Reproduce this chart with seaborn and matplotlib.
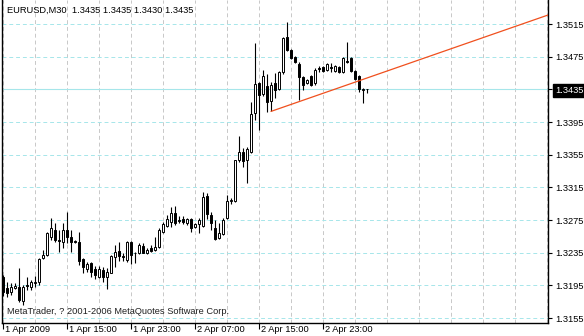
import numpy as np
import pandas as pd
import matplotlib
matplotlib.use("Agg")
import matplotlib.pyplot as plt
import matplotlib.transforms as mtransforms
import seaborn as sns

# ---------------- data ----------------
header_text = "EURUSD,M30  1.3435 1.3435 1.3430 1.3435"
footer_text = "MetaTrader, ? 2001-2006 MetaQuotes Software Corp."

open_ = [1.3205, 1.3192, 1.3187, 1.3192, 1.3193, 1.3176, 1.3195, 1.3193, 1.3198, 1.3199,
         1.3228, 1.3232, 1.3254, 1.3263, 1.3251, 1.3248, 1.3263, 1.3254, 1.3249, 1.3248,
         1.3227, 1.3215, 1.3222, 1.3215, 1.3205, 1.3214, 1.3205, 1.3210, 1.3230, 1.3237,
         1.3231, 1.3226, 1.3248, 1.3234, 1.3235, 1.3243, 1.3235, 1.3241, 1.3238, 1.3242,
         1.3260, 1.3268, 1.3273, 1.3284, 1.3275, 1.3276, 1.3271, 1.3276, 1.3266, 1.3270,
         1.3268, 1.3304, 1.3281, 1.3265, 1.3253, 1.3258, 1.3277, 1.3298, 1.3298, 1.3348,
         1.3358, 1.3348, 1.3358, 1.3406, 1.3443, 1.3429, 1.3439, 1.3421, 1.3443, 1.3435,
         1.3456, 1.3499, 1.3483, 1.3475, 1.3466, 1.3450, 1.3443, 1.3451, 1.3443, 1.3461,
         1.3462, 1.3459, 1.3462, 1.3457, 1.3462, 1.3456, 1.3470, 1.3473, 1.3457, 1.3451,
         1.3434, 1.3435]
high = [1.3208, 1.3199, 1.3198, 1.3198, 1.3216, 1.3195, 1.3205, 1.3202, 1.3206, 1.3228,
        1.3238, 1.3260, 1.3277, 1.3271, 1.3263, 1.3271, 1.3285, 1.3263, 1.3251, 1.3260,
        1.3228, 1.3224, 1.3224, 1.3219, 1.3219, 1.3217, 1.3216, 1.3232, 1.3244, 1.3248,
        1.3235, 1.3249, 1.3249, 1.3236, 1.3247, 1.3247, 1.3241, 1.3244, 1.3254, 1.3265,
        1.3273, 1.3281, 1.3291, 1.3292, 1.3280, 1.3280, 1.3277, 1.3277, 1.3271, 1.3277,
        1.3309, 1.3308, 1.3285, 1.3275, 1.3271, 1.3277, 1.3306, 1.3302, 1.3349, 1.3378,
        1.3363, 1.3364, 1.3419, 1.3492, 1.3444, 1.3459, 1.3454, 1.3444, 1.3455, 1.3457,
        1.3499, 1.3517, 1.3484, 1.3476, 1.3468, 1.3451, 1.3448, 1.3453, 1.3461, 1.3464,
        1.3464, 1.3467, 1.3467, 1.3465, 1.3464, 1.3474, 1.3493, 1.3475, 1.3459, 1.3453,
        1.3437, 1.3435]
low = [1.3182, 1.3181, 1.3183, 1.3191, 1.3175, 1.3171, 1.3189, 1.3189, 1.3193, 1.3195,
       1.3227, 1.3231, 1.3251, 1.3248, 1.3236, 1.3241, 1.3247, 1.3236, 1.3247, 1.3220,
       1.3210, 1.3211, 1.3205, 1.3203, 1.3204, 1.3199, 1.3191, 1.3210, 1.3217, 1.3225,
       1.3225, 1.3224, 1.3221, 1.3222, 1.3233, 1.3235, 1.3233, 1.3236, 1.3237, 1.3241,
       1.3259, 1.3266, 1.3266, 1.3269, 1.3271, 1.3270, 1.3269, 1.3260, 1.3265, 1.3259,
       1.3266, 1.3276, 1.3263, 1.3251, 1.3252, 1.3257, 1.3276, 1.3295, 1.3297, 1.3346,
       1.3340, 1.3320, 1.3357, 1.3397, 1.3385, 1.3427, 1.3407, 1.3408, 1.3424, 1.3434,
       1.3454, 1.3482, 1.3472, 1.3467, 1.3422, 1.3434, 1.3442, 1.3439, 1.3440, 1.3456,
       1.3456, 1.3457, 1.3456, 1.3456, 1.3455, 1.3455, 1.3467, 1.3456, 1.3446, 1.3432,
       1.3418, 1.3430]
close = [1.3187, 1.3186, 1.3193, 1.3194, 1.3177, 1.3193, 1.3194, 1.3199, 1.3199, 1.3227,
         1.3232, 1.3259, 1.3265, 1.3251, 1.3249, 1.3263, 1.3254, 1.3248, 1.3248, 1.3225,
         1.3217, 1.3221, 1.3211, 1.3208, 1.3215, 1.3205, 1.3211, 1.3231, 1.3236, 1.3231,
         1.3230, 1.3248, 1.3232, 1.3235, 1.3244, 1.3235, 1.3238, 1.3237, 1.3242, 1.3263,
         1.3270, 1.3276, 1.3284, 1.3271, 1.3274, 1.3273, 1.3276, 1.3265, 1.3270, 1.3275,
         1.3303, 1.3282, 1.3271, 1.3252, 1.3259, 1.3275, 1.3298, 1.3299, 1.3348, 1.3358,
         1.3347, 1.3362, 1.3405, 1.3442, 1.3428, 1.3451, 1.3419, 1.3440, 1.3434, 1.3456,
         1.3498, 1.3483, 1.3473, 1.3468, 1.3450, 1.3440, 1.3446, 1.3440, 1.3459, 1.3460,
         1.3457, 1.3466, 1.3461, 1.3464, 1.3456, 1.3473, 1.3468, 1.3457, 1.3448, 1.3435,
         1.3435, 1.3435]

x_tick_bars = [0, 16, 32, 48, 64, 80]
x_tick_labels = ["1 Apr 2009", "1 Apr 15:00", "1 Apr 23:00",
                 "2 Apr 07:00", "2 Apr 15:00", "2 Apr 23:00"]
y_ticks = [1.3155, 1.3195, 1.3235, 1.3275, 1.3315, 1.3355,
           1.3395, 1.3435, 1.3475, 1.3515]
current_price = 1.3435
trend_bars = [67, 136.25]
trend_prices = [1.3408, 1.3526]

# ---------------- table ----------------
df = pd.DataFrame({"open": open_, "high": high, "low": low, "close": close})
df["bar"] = np.arange(len(df))
df["bottom"] = df[["open", "close"]].min(axis=1)
df["height"] = (df["close"] - df["open"]).abs()
df["up"] = df["close"] >= df["open"]
trend = pd.DataFrame({"bar": trend_bars, "price": trend_prices})

# ---------------- style ----------------
sns.set_theme(style="white")
plt.rcParams["font.family"] = ["Liberation Sans", "DejaVu Sans"]
FS = 6.7

fig = plt.figure(figsize=(5.84, 3.36), dpi=100)
ax = fig.add_axes([2 / 584, 13 / 336, 546 / 584, 323 / 336])
ax.set_facecolor("white")

ax.set_xlim(-0.25, 136.25)
ax.set_ylim(1.31489, 1.35444)

# grids
ax.set_xticks(x_tick_bars)
ax.set_xticklabels(x_tick_labels)
ax.set_xticks(np.arange(8, 137, 8), minor=True)
ax.set_yticks(y_ticks)
ax.set_yticklabels([f"{v:.4f}" for v in y_ticks])
ax.grid(axis="x", which="both", color="#c8c8c8", linestyle=(0, (4, 3)), linewidth=0.7)
ax.grid(axis="y", which="major", color="#a6e6ea", linestyle=(0, (4, 3)), linewidth=0.7)
ax.set_axisbelow(True)

# current price line
ax.axhline(current_price, color="#a6e6ea", linewidth=0.8, zorder=1)

# candles
ax.vlines(df["bar"], df["low"], df["high"], color="black", linewidth=0.8, zorder=2)
ax.bar(df["bar"], df["height"], bottom=df["bottom"], width=0.5,
       color=np.where(df["up"], "white", "black"), edgecolor="black",
       linewidth=0.7, zorder=3)

# trend line
sns.lineplot(data=trend, x="bar", y="price", color="#f0501e", linewidth=0.9,
             ax=ax, zorder=4)
ax.set_xlabel("")
ax.set_ylabel("")

# spines
for s in ["left", "right", "bottom"]:
    ax.spines[s].set_visible(True)
    ax.spines[s].set_color("black")
    ax.spines[s].set_linewidth(1.0)
ax.spines["top"].set_visible(False)

ax.yaxis.tick_right()
ax.tick_params(axis="y", which="major", direction="out", length=3, width=0.8,
               pad=2, labelsize=FS, colors="black", left=False, right=True)
ax.tick_params(axis="x", which="major", direction="out", length=4, width=0.8,
               pad=-2.5, labelsize=FS, colors="black", bottom=True)
ax.tick_params(axis="x", which="minor", length=0)
offset = mtransforms.ScaledTranslation(2 / 100, 0, fig.dpi_scale_trans)
for lbl in ax.get_xticklabels():
    lbl.set_horizontalalignment("left")
    lbl.set_transform(lbl.get_transform() + offset)

for lbl in ax.get_yticklabels():
    if lbl.get_text() == f"{current_price:.4f}":
        lbl.set_color("white")
        lbl.set_bbox(dict(facecolor="black", edgecolor="black", pad=1.5))

fig.text(7 / 584, 1 - 10 / 336, header_text, fontsize=FS, color="black",
         ha="left", va="center")
fig.text(7 / 584, 1 - 312 / 336, footer_text, fontsize=FS, color="#202020",
         ha="left", va="center")

fig.savefig("out.png", dpi=100)
